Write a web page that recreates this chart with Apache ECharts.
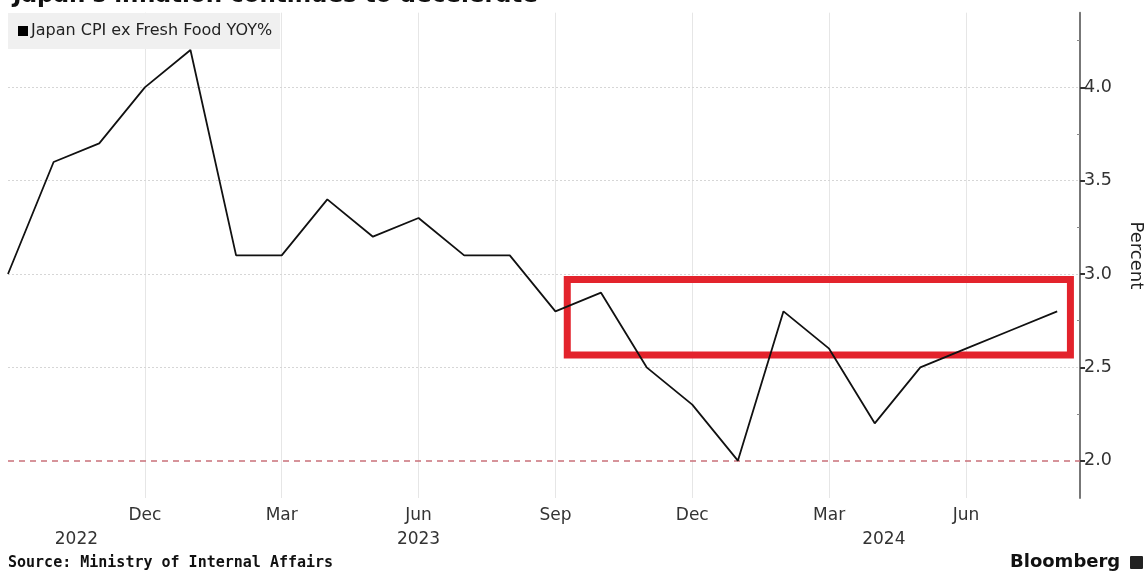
<!DOCTYPE html>
<html>
<head>
<meta charset="utf-8">
<script src="https://cdn.jsdelivr.net/npm/echarts@6/dist/echarts.min.js"></script>
<style>
  html, body { margin: 0; padding: 0; background: #fff; }
  #chart { width: 1147px; height: 575px; }
</style>
</head>
<body>
<div id="chart"></div>
<script>
// Months from Sep 2022 to Aug 2024
const months = ['Sep','Oct','Nov','Dec','Jan','Feb','Mar','Apr','May','Jun','Jul','Aug',
                'Sep','Oct','Nov','Dec','Jan','Feb','Mar','Apr','May','Jun','Jul','Aug'];
const cpiValues = [3.0, 3.6, 3.7, 4.0, 4.2, 3.1, 3.1, 3.4, 3.2, 3.3, 3.1, 3.1,
                   2.8, 2.9, 2.5, 2.3, 2.0, 2.8, 2.6, 2.2, 2.5, 2.6, 2.7, 2.8];
const yTickLabels = [2.0, 2.5, 3.0, 3.5, 4.0];
const yMinorTicks = [2.25, 2.75, 3.25, 3.75, 4.25];
const yearLabels = ['2022', '2023', '2024'];
const yearPositions = [1.5, 9, 19.2]; // month-index positions of year labels
const boj_target = 2.0;
const highlightBox = { x0: 12.26, x1: 23.29, y0: 2.566, y1: 2.97 };
const seriesName = 'Japan CPI ex Fresh Food YOY%';

const chart = echarts.init(document.getElementById('chart'), null, { renderer: 'canvas' });

const lineData = cpiValues.map((v, i) => [i, v]);

const Y_MIN = 1.8, Y_MAX = 4.4;

const option = {
  animation: false,
  backgroundColor: '#ffffff',
  textStyle: { fontFamily: 'DejaVu Sans' },
  title: {
    text: "Japan's inflation continues to decelerate",
    left: 8, top: -20,
    textStyle: { fontFamily: 'DejaVu Sans', fontWeight: 'bold', fontSize: 23, color: '#111' }
  },
  legend: {
    left: 8, top: 13,
    data: [{ name: seriesName, icon: 'rect' }],
    itemWidth: 10, itemHeight: 10, itemGap: 4,
    backgroundColor: '#f0f0f0',
    padding: [10, 8, 10, 10],
    textStyle: { fontFamily: 'DejaVu Sans', fontSize: 16, color: '#222', padding: [0, 0, 0, -2] }
  },
  grid: { left: 8, right: 67, top: 12.7, bottom: 77, outerBoundsMode: 'none', containLabel: false },
  xAxis: {
    type: 'value',
    min: 0, max: 23.5, interval: 3,
    axisLine: { show: false },
    axisTick: { show: false },
    splitLine: { show: true, showMinLine: false, showMaxLine: false, lineStyle: { color: '#e6e6e6', width: 1 } },
    axisLabel: {
      fontFamily: 'DejaVu Sans', fontSize: 17, color: '#333', margin: 9,
      formatter: v => (Number.isInteger(v) && v > 0 && v % 3 === 0) ? months[v] : ''
    }
  },
  yAxis: [{
    type: 'value',
    position: 'right',
    min: Y_MIN, max: Y_MAX,
    name: 'Percent',
    nameLocation: 'middle',
    nameRotate: -90,
    nameGap: 47,
    nameTextStyle: { fontFamily: 'DejaVu Sans', fontSize: 18, color: '#222' },
    axisLine: { show: true, onZero: false, lineStyle: { color: '#777', width: 2 } },
    axisTick: { show: true, inside: false, length: 5, customValues: yTickLabels, lineStyle: { color: '#333', width: 2 } },
    axisLabel: {
      fontFamily: 'DejaVu Sans', fontSize: 17.5, color: '#333', margin: 4,
      customValues: yTickLabels,
      formatter: v => v.toFixed(1)
    },
    splitLine: { show: false }
  }, {
    type: 'value',
    position: 'right',
    min: Y_MIN, max: Y_MAX,
    axisLine: { show: false, onZero: false },
    axisTick: { show: true, inside: true, length: 3, customValues: yMinorTicks, lineStyle: { color: '#888', width: 1 } },
    axisLabel: { show: false },
    splitLine: { show: false }
  }],
  series: [{
    name: seriesName,
    type: 'line',
    data: lineData,
    showSymbol: false,
    lineStyle: { color: '#111', width: 1.8 },
    itemStyle: { color: '#000' },
    z: 5,
    markLine: {
      silent: true,
      symbol: 'none',
      label: { show: false },
      lineStyle: { color: '#c9707a', type: [6, 5], width: 1.5 },
      data: [{ yAxis: boj_target }]
    },
    markArea: {
      silent: true,
      itemStyle: { color: 'rgba(0,0,0,0)', borderColor: '#e3232c', borderWidth: 7 },
      data: [[
        { coord: [highlightBox.x0, highlightBox.y1] },
        { coord: [highlightBox.x1, highlightBox.y0] }
      ]]
    }
  }, {
    // horizontal grid lines at labelled ticks (except the 2.0 target line)
    name: 'grid',
    type: 'line',
    data: [],
    silent: true,
    z: 1,
    markLine: {
      silent: true,
      symbol: 'none',
      label: { show: false },
      lineStyle: { color: '#d6d6d6', type: [2, 2], width: 1 },
      data: yTickLabels.filter(v => v !== boj_target).map(v => ({ yAxis: v }))
    }
  }]
};

chart.setOption(option);

// Year labels positioned via the axis scale
const yearGraphics = yearLabels.map((t, i) => {
  const p = chart.convertToPixel({ xAxisIndex: 0, yAxisIndex: 0 }, [yearPositions[i], Y_MIN]);
  return {
    type: 'text',
    x: p[0], y: 531,
    style: { text: t, fontFamily: 'DejaVu Sans', fontSize: 17, fill: '#333', textAlign: 'center', textVerticalAlign: 'top' }
  };
});

chart.setOption({
  graphic: yearGraphics.concat([
    {
      type: 'text', left: 8, top: 556,
      style: { text: 'Source: Ministry of Internal Affairs', fontFamily: 'DejaVu Sans Mono', fontWeight: 'bold', fontSize: 15, fill: '#111' }
    },
    {
      type: 'text', left: 1010, top: 553,
      style: { text: 'Bloomberg', fontFamily: 'DejaVu Sans', fontWeight: 'bold', fontSize: 18, fill: '#111' }
    },
    {
      type: 'rect', left: 1130, top: 556, shape: { width: 13, height: 13, r: 1 },
      style: { fill: '#222' }
    }
  ])
});
</script>
</body>
</html>
